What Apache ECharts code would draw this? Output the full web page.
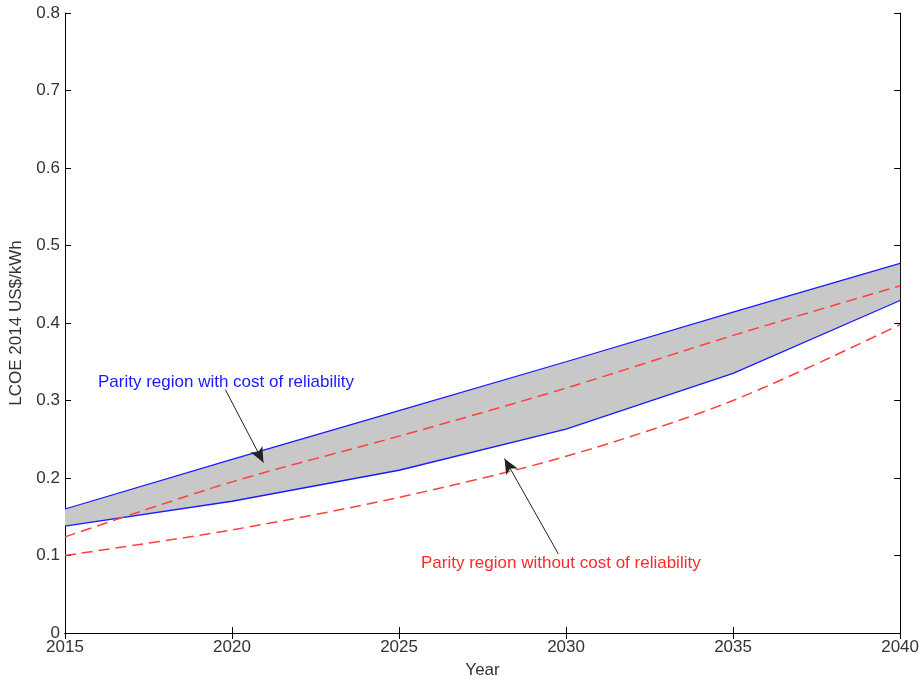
<!doctype html>
<html lang="en">
<head>
    <meta charset="UTF-8">
    <title>LCOE parity region</title>
    <style>
        html, body { margin: 0; padding: 0; background: #fff; }
        #chart { width: 922px; height: 684px; }
    </style>
</head>
<body>
    <div id="chart"></div>

    <script src="https://cdn.jsdelivr.net/npm/echarts@6/dist/echarts.min.js"></script>
    <script>
        // data
        var years = [2015, 2020, 2025, 2030, 2035, 2040];
        var upperBlue = [0.160, 0.224, 0.287, 0.350, 0.414, 0.477];
        var lowerBlue = [0.138, 0.170, 0.210, 0.263, 0.335, 0.429];
        var upperRed = [0.124, 0.195, 0.254, 0.316, 0.384, 0.448];
        var lowerRed = [0.100, 0.133, 0.175, 0.228, 0.300, 0.398];
        var yTicks = [0, 0.1, 0.2, 0.3, 0.4, 0.5, 0.6, 0.7, 0.8];

        function pairs(vals) {
            return years.map(function (y, i) { return [y, vals[i]]; });
        }

        var font = 'Liberation Sans, Arial, sans-serif';
        var txt = '#333';
        var chart = echarts.init(document.getElementById('chart'));

        // grey band between the two blue lines, drawn once as a polygon
        function renderBand(params, api) {
            if (params.dataIndex !== 0) return;
            var pts = [];
            years.forEach(function (y, i) { pts.push(api.coord([y, upperBlue[i]])); });
            for (var i = years.length - 1; i >= 0; i--) pts.push(api.coord([years[i], lowerBlue[i]]));
            return {
                type: 'polygon',
                shape: { points: pts },
                style: { fill: '#c8c8c8' }
            };
        }

        var option = {
            animation: false,
            grid: { left: 64, right: 19, top: 13, bottom: 50 },
            xAxis: [{
                type: 'value',
                min: 2015, max: 2040, interval: 5,
                name: 'Year',
                nameLocation: 'middle',
                nameGap: 29,
                nameTextStyle: { color: txt, fontSize: 17, fontFamily: font },
                axisLine: { lineStyle: { color: '#000', width: 1 } },
                axisTick: { inside: true, length: 6, lineStyle: { color: '#000' } },
                axisLabel: {
                    color: txt, fontSize: 17, fontFamily: font, margin: 6,
                    formatter: function (v) { return String(v); }
                },
                splitLine: { show: false }
            }, {
                type: 'value', position: 'top',
                min: 2015, max: 2040, interval: 5,
                axisLine: { lineStyle: { color: '#000', width: 1 } },
                axisTick: { inside: true, length: 6, lineStyle: { color: '#000' } },
                axisLabel: { show: false },
                splitLine: { show: false }
            }],
            yAxis: [{
                type: 'value',
                min: 0, max: 0.8, interval: 0.1,
                name: 'LCOE 2014 US$/kWh',
                nameLocation: 'middle',
                nameGap: 40,
                nameTextStyle: { color: txt, fontSize: 17, fontFamily: font },
                axisLine: { show: true, lineStyle: { color: '#000', width: 1 } },
                axisTick: { show: true, inside: true, length: 6, lineStyle: { color: '#000' } },
                axisLabel: {
                    color: txt, fontSize: 17, fontFamily: font, margin: 5,
                    formatter: function (v) {
                        var t = yTicks.find(function (k) { return Math.abs(k - v) < 1e-9; });
                        return t === undefined ? '' : String(t);
                    }
                },
                splitLine: { show: false }
            }, {
                type: 'value', position: 'right',
                min: 0, max: 0.8, interval: 0.1,
                axisLine: { show: true, lineStyle: { color: '#000', width: 1 } },
                axisTick: { show: true, inside: true, length: 6, lineStyle: { color: '#000' } },
                axisLabel: { show: false },
                splitLine: { show: false }
            }],
            series: [
                {
                    name: 'band', type: 'custom',
                    renderItem: renderBand,
                    data: pairs(upperBlue),
                    silent: true, z: 1
                },
                {
                    name: 'upper blue', type: 'line', data: pairs(upperBlue),
                    symbol: 'none', lineStyle: { color: '#1a1aff', width: 1.3 }
                },
                {
                    name: 'lower blue', type: 'line', data: pairs(lowerBlue),
                    symbol: 'none', lineStyle: { color: '#1a1aff', width: 1.3 }
                },
                {
                    name: 'upper red', type: 'line', data: pairs(upperRed),
                    symbol: 'none', smooth: 0.3,
                    lineStyle: { color: '#ff4040', width: 1.5, type: [11, 6] }
                },
                {
                    name: 'lower red', type: 'line', data: pairs(lowerRed),
                    symbol: 'none', smooth: 0.3,
                    lineStyle: { color: '#ff4040', width: 1.5, type: [11, 6] },
                    markLine: {
                        silent: true,
                        symbol: ['none', 'arrow'],
                        symbolSize: [10, 15],
                        label: { show: false },
                        lineStyle: { color: '#222', width: 1, type: 'solid' },
                        data: [
                            [{ coord: [2019.80, 0.314] }, { coord: [2020.94, 0.220] }],
                            [{ coord: [2029.77, 0.102] }, { coord: [2028.16, 0.225] }]
                        ]
                    }
                }
            ],
            graphic: [
                {
                    type: 'text', left: 98, top: 374,
                    style: { text: 'Parity region with cost of reliability', fill: '#1a1aff', font: '17px ' + font }
                },
                {
                    type: 'text', left: 421, top: 555,
                    style: { text: 'Parity region without cost of reliability', fill: '#ff2a2a', font: '17px ' + font }
                }
            ]
        };

        chart.setOption(option);
    </script>
</body>
</html>
